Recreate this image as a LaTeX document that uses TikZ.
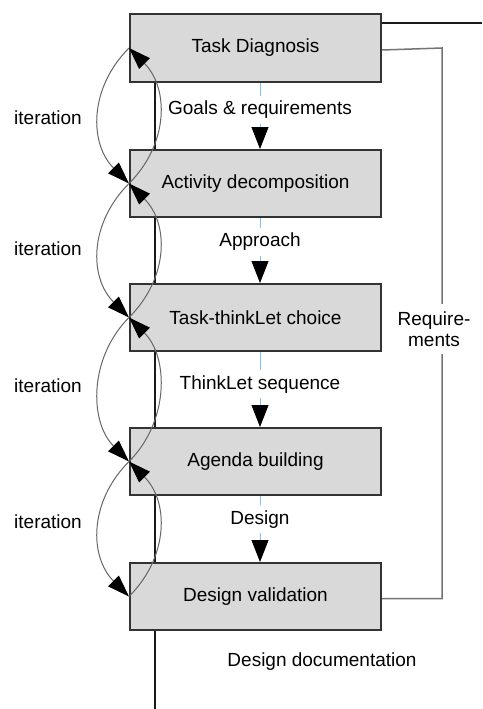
\documentclass[tikz,border=0pt]{standalone}
\usepackage{fontspec}
\setmainfont{Liberation Sans}
\usetikzlibrary{arrows.meta, positioning, calc}
\definecolor{flowblue}{RGB}{150,185,215}

\begin{document}
\begin{tikzpicture}[x=1pt, y=-1pt,
    font=\fontsize{19}{21}\selectfont,
    box/.style={draw=black!80, line width=2pt, fill=black!15,
        minimum width=251pt, minimum height=67pt, inner sep=0pt},
    wire/.style={line width=2pt, draw=black!90},
    flow/.style={draw=flowblue, line width=0.8pt,
        -{Triangle[length=22pt, width=17pt, color=black]}},
    loopline/.style={draw=black!60, line width=1pt,
        -{Triangle[length=22pt, width=15pt, color=black, fill=black]}},
    feedback/.style={draw=black!55, line width=1.5pt}]
    \useasboundingbox (0,0) rectangle (482,709);

    % 步骤框
    \foreach \n/\y/\txt in {1/48/Task Diagnosis, 2/183.5/Activity decomposition,
        3/317.5/Task-thinkLet choice, 4/461.5/Agenda building,
        5/596.5/Design validation} {
        \node[box] (t\n) at (255.5, \y) {\txt};
    }

    % 主线
    \coordinate (spine) at (155, 0);
    \coordinate (input) at (482, 23);
    \coordinate (output) at (155, 709);
    \draw[wire] (t1.north east |- input) -- (input);
    \foreach \a/\b in {1/2, 2/3, 3/4, 4/5} {
        \draw[wire] (t\a.south -| spine) -- (t\b.north -| spine);
    }
    \draw[wire] (output |- t5.south) -- (output);

    % 产出箭头
    \foreach \a/\b/\lab/\p in {1/2/Goals \& requirements/0.41, 2/3/Approach/0.37,
        3/4/ThinkLet sequence/0.43, 4/5/Design/0.35} {
        \draw[flow] ([xshift=4.5pt]t\a.south) --
            node[pos=\p, fill=white, inner xsep=2pt, inner ysep=5pt] (lab\a) {\lab}
            ([xshift=4.5pt]t\b.north);
    }
    \node (doc) at (322, 662) {Design documentation};

    % 迭代
    \foreach \a/\b/\y in {1/2/118, 2/3/249, 3/4/386, 4/5/522} {
        \draw[loopline] (t\a.west) .. controls +(-40pt,-40pt) and +(-40pt,40pt) .. (t\b.west);
        \draw[loopline] (t\b.west) .. controls +(40pt,40pt) and +(40pt,-40pt) .. (t\a.west);
        \node (it\a) at (48, \y) {iteration};
    }

    % 需求反馈
    \coordinate (fb) at (442, 0);
    \draw[feedback] ([yshift=-2pt]t5.east) -| (fb |- t1.east) -- ([yshift=-2pt]t1.east);
    \node[fill=white, align=center, inner xsep=1pt, inner ysep=8pt] (req)
        at (434, 329) {Require-\\ments};
\end{tikzpicture}
\end{document}
